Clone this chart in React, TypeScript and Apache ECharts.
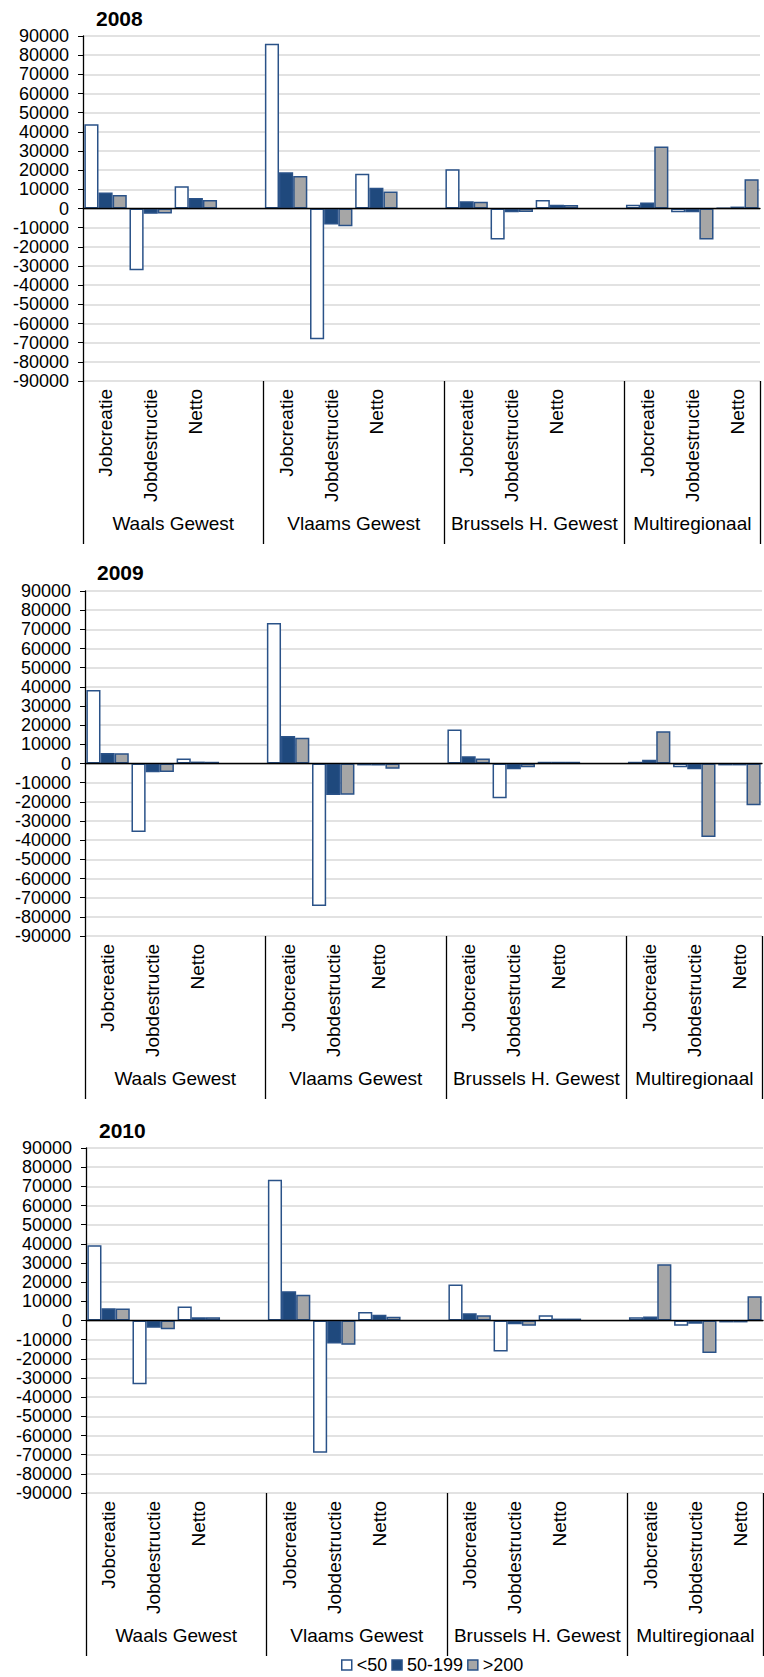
import React, { useEffect, useRef } from "react";
import * as echarts from "echarts";

const years = ["2008", "2009", "2010"];
const regions = ["Waals Gewest", "Vlaams Gewest", "Brussels H. Gewest", "Multiregionaal"];
const measures = ["Jobcreatie", "Jobdestructie", "Netto"];
const sizeClasses = ["<50", "50-199", ">200"];

// order per year: Waals (Jobcreatie, Jobdestructie, Netto), Vlaams (...), Brussels (...), Multiregionaal (...)
const small2008 = [44000, -32200, 11600, 86000, -68200, 18100, 20500, -16200, 4500, 1900, -1900, 200];
const medium2008 = [8300, -2800, 5500, 18900, -8300, 10800, 3800, -1900, 1900, 3100, -1900, 1000];
const large2008 = [7100, -2600, 4500, 17000, -9200, 8900, 3500, -1800, 1800, 32300, -16200, 15300];

const small2009 = [38400, -35800, 2600, 73300, -74400, -1000, 17700, -18100, 900, 900, -1900, -1000];
const medium2009 = [5500, -4500, 1000, 14400, -16400, -1000, 3800, -3000, 900, 1900, -3000, -1000];
const large2009 = [5400, -4400, 900, 13400, -16300, -2800, 2600, -1900, 900, 16800, -38400, -21800];

const small2010 = [39300, -33200, 7300, 73400, -69000, 4500, 18800, -16200, 2800, 1700, -2800, -1000];
const medium2010 = [6400, -3800, 1700, 15300, -12000, 3000, 3800, -1900, 1000, 2100, -1700, -1000];
const large2010 = [6300, -4500, 1700, 13400, -12700, 1900, 2800, -2800, 1000, 29400, -17000, 12700];

const yearData = [
  [small2008, medium2008, large2008],
  [small2009, medium2009, large2009],
  [small2010, medium2010, large2010],
];

const yTicksMin = -90000;
const yTicksMax = 90000;
const yTicksStep = 10000;

const FONT = "'Liberation Sans', Arial, sans-serif";
const fills = ["#ffffff", "#1f497d", "#a6a6a6"];
const BORDER = "#2a5288";

// layout (pixels)
const plotTops = [36, 591, 1148];
const plotLefts = [83, 85, 86];
const plotRights = [760, 762, 763];
const plotHeight = 345;
const titleX = [96, 97, 99];
const titleCenterY = [18, 572.5, 1130.5];

// 15 slots: 3 measures per region + an empty slot between regions
const slotCategories: string[] = [];
regions.forEach((_, g) => {
  measures.forEach((m) => slotCategories.push(m));
  if (g < regions.length - 1) slotCategories.push("");
});
const slotCount = slotCategories.length;

function expand(values: number[]): (number | null)[] {
  const out: (number | null)[] = [];
  regions.forEach((_, g) => {
    for (let i = 0; i < measures.length; i++) out.push(values[g * measures.length + i]);
    if (g < regions.length - 1) out.push(null);
  });
  return out;
}

// group label centres in slot units
const groupCenters: Record<string, string> = {};
regions.forEach((r, g) => {
  const start = g * 4;
  const end = Math.min(start + 4, slotCount);
  groupCenters[String((start + end) / 2)] = r;
});

export default function App() {
  const ref = useRef<HTMLDivElement>(null);

  useEffect(() => {
    document.body.style.margin = "0";
    if (!ref.current) return;
    const chart = echarts.init(ref.current, undefined, { renderer: "svg" });

    const grids: any[] = [];
    const xAxes: any[] = [];
    const yAxes: any[] = [];
    const titles: any[] = [];
    const series: any[] = [];

    years.forEach((year, k) => {
      grids.push({
        left: plotLefts[k],
        top: plotTops[k],
        width: plotRights[k] - plotLefts[k],
        height: plotHeight,
        containLabel: false,
        outerBoundsMode: "none",
      });
      titles.push({
        text: year,
        left: titleX[k],
        top: titleCenterY[k] - 12,
        padding: 0,
        textStyle: { fontSize: 21, fontWeight: "bold", lineHeight: 24, color: "#000", fontFamily: FONT },
      });
      // zero line axis
      xAxes.push({
        type: "category",
        gridIndex: k,
        data: slotCategories,
        position: "bottom",
        z: 5,
        axisLine: { show: true, onZero: true, lineStyle: { color: "#000", width: 1.3 } },
        axisTick: { show: false },
        axisLabel: { show: false },
        splitLine: { show: false },
      });
      // category labels + group separators
      xAxes.push({
        type: "category",
        gridIndex: k,
        data: slotCategories,
        position: "bottom",
        offset: 0,
        axisLine: { show: false, onZero: false },
        axisTick: {
          show: true,
          interval: (i: number) => i % 4 === 0,
          length: 163,
          lineStyle: { color: "#000", width: 1.3 },
        },
        axisLabel: {
          show: true,
          interval: 0,
          rotate: 90,
          margin: 8,
          fontSize: 19,
          color: "#000",
          fontFamily: FONT,
        },
        splitLine: { show: false },
      });
      // group names
      xAxes.push({
        type: "value",
        gridIndex: k,
        min: 0,
        max: slotCount,
        interval: 0.5,
        position: "bottom",
        offset: 0,
        axisLine: { show: false, onZero: false },
        axisTick: { show: false },
        splitLine: { show: false },
        axisLabel: {
          show: true,
          margin: 133,
          fontSize: 19,
          color: "#000",
          fontFamily: FONT,
          formatter: (v: number) => groupCenters[String(v)] || "",
        },
      });
      yAxes.push({
        type: "value",
        gridIndex: k,
        min: yTicksMin,
        max: yTicksMax,
        interval: yTicksStep,
        axisLine: { show: true, onZero: false, lineStyle: { color: "#000", width: 1.3 } },
        axisTick: { show: true, length: 5, lineStyle: { color: "#000", width: 1 } },
        axisLabel: {
          fontSize: 18,
          color: "#000",
          margin: 14,
          fontFamily: FONT,
          formatter: (v: number) => String(v),
        },
        splitLine: { show: true, lineStyle: { color: "#d9d9d9", width: 1.5 } },
      });
      sizeClasses.forEach((name, s) => {
        series.push({
          type: "bar",
          name,
          xAxisIndex: k * 3,
          yAxisIndex: k,
          data: expand(yearData[k][s]),
          barGap: "0%",
          barCategoryGap: "6%",
          itemStyle: { color: fills[s], borderColor: BORDER, borderWidth: 1.5 },
          emphasis: { disabled: true },
        });
      });
    });

    chart.setOption({
      animation: false,
      textStyle: { fontFamily: FONT },
      title: titles,
      grid: grids,
      xAxis: xAxes,
      yAxis: yAxes,
      legend: {
        data: sizeClasses,
        left: 341,
        top: 1656,
        padding: 0,
        itemWidth: 10,
        itemHeight: 10,
        itemGap: 4,
        icon: "rect",
        itemStyle: { borderWidth: 1.5 },
        textStyle: { fontSize: 18, color: "#000", fontFamily: FONT },
      },
      series,
    });

    return () => chart.dispose();
  }, []);

  return <div ref={ref} style={{ width: 764, height: 1677 }} />;
}
